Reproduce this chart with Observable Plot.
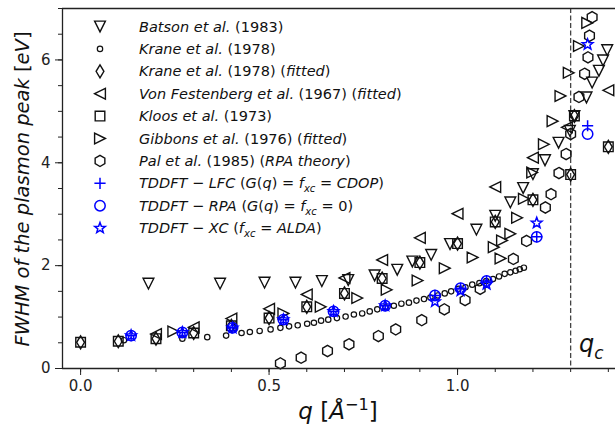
<!DOCTYPE html>
<html><head><meta charset="utf-8">
<script src="https://cdn.jsdelivr.net/npm/d3@7"></script>
<script src="https://cdn.jsdelivr.net/npm/@observablehq/plot@0.6"></script>
<style>body{margin:0;background:#fff} svg{display:block}</style>
</head><body><div id="chart"></div>
<script>
// ---------- data (q in 1/Angstrom, FWHM in eV) ----------
const batsonQ = [0.18,0.37,0.488,0.57,0.64,0.71,0.78,0.84,0.88,0.93,0.98,1.05,1.10,1.14,1.174,1.20,1.232,1.268,1.298,1.31,1.342,1.357,1.375,1.386,1.397];
const batsonV = [1.65,1.65,1.67,1.67,1.70,1.72,1.81,1.92,2.08,2.21,2.42,2.70,2.97,3.23,3.51,3.78,4.05,4.39,4.62,4.91,5.27,5.56,5.79,5.99,6.19];

const kraneQ = [0.115,0.27,0.336,0.386,0.427,0.449,0.475,0.504,0.53,0.553,0.576,0.601,0.619,0.638,0.657,0.68,0.703,0.725,0.747,0.767,0.787,0.809,0.831,0.851,0.871,0.891,0.911,0.928,0.948,0.966,0.983,1.002,1.021,1.039,1.058,1.076,1.094,1.11,1.125,1.14,1.154,1.165,1.176];
const kraneV = [0.55,0.58,0.61,0.64,0.69,0.71,0.73,0.76,0.79,0.82,0.84,0.87,0.89,0.93,0.95,0.98,1.01,1.05,1.07,1.11,1.15,1.19,1.22,1.26,1.28,1.32,1.35,1.38,1.42,1.46,1.50,1.55,1.58,1.63,1.66,1.70,1.74,1.79,1.84,1.87,1.90,1.93,1.96];

const kraneFitQ = [0.0,0.1,0.2,0.3,0.4,0.5,0.6,0.7,0.8,0.9,1.0,1.1,1.2,1.3,1.31,1.4];
const kraneFitV = [0.51,0.53,0.58,0.69,0.83,0.98,1.20,1.46,1.75,2.06,2.43,2.85,3.28,3.77,4.91,4.31];

const festQ = [0.2,0.3,0.4,0.5,0.6,0.7,0.8,0.9,1.0,1.1,1.2,1.29,1.4];
const festV = [0.67,0.80,0.97,1.16,1.44,1.76,2.11,2.54,3.01,3.53,4.10,4.69,5.41];

const kloosQ = [0.0,0.1,0.2,0.3,0.4,0.5,0.6,0.7,0.8,0.9,1.0,1.1,1.2,1.3,1.31,1.4];
const kloosV = [0.51,0.53,0.58,0.69,0.83,0.98,1.20,1.46,1.75,2.06,2.43,2.85,3.28,3.77,4.91,4.31];

const gibbonsQ = [0.246,0.538,0.637,0.734,0.812,0.894,0.966,1.04,1.096,1.114,1.118,1.14,1.158,1.176,1.198,1.229,1.252,1.273,1.295,1.322,1.344];
const gibbonsV = [0.72,1.07,1.20,1.37,1.53,1.71,1.95,2.16,2.36,2.14,2.49,2.62,2.93,3.30,3.81,4.36,4.81,5.30,5.75,6.27,6.72];

const palQ = [0.53,0.585,0.655,0.712,0.79,0.836,0.905,0.965,1.02,1.06,1.148,1.183,1.233,1.248,1.269,1.288,1.30,1.322,1.337,1.346,1.35,1.357];
const palV = [0.10,0.21,0.34,0.47,0.63,0.76,0.94,1.15,1.33,1.55,2.13,2.48,3.13,3.39,3.80,4.17,4.56,5.28,5.73,6.05,6.47,6.83];

const tddftQ = [0.134,0.27,0.403,0.538,0.671,0.808,0.94,1.008,1.077,1.21,1.345];
const lfcV = [0.64,0.70,0.79,0.95,1.11,1.22,1.42,1.56,1.70,2.56,4.72];
const rpaV = [0.64,0.70,0.79,0.95,1.11,1.22,1.42,1.56,1.70,2.56,4.56];
const xcV  = [0.64,0.70,0.79,0.95,1.11,1.22,1.30,1.51,1.64,2.83,6.30];

const qc = 1.30;
const xDomain = [-0.048, 1.419];
const yDomain = [0, 7];
const xMajor = [0, 0.5, 1.0];
const xMinor = [0,0.1,0.2,0.3,0.4,0.5,0.6,0.7,0.8,0.9,1.0,1.1,1.2,1.3,1.4];
const yMajor = [0, 2, 4, 6];
const yMinor = [0,0.5,1,1.5,2,2.5,3,3.5,4,4.5,5,5.5,6,6.5,7];

// ---------- marker shapes ----------
function polySym(pts){return {draw(ctx,size){const r=Math.sqrt(size/Math.PI);pts.forEach(([a,b],i)=>i?ctx.lineTo(a*r,b*r):ctx.moveTo(a*r,b*r));ctx.closePath();}};}
const triDown = polySym([[0,1],[-1,-1],[1,-1]]);
const triLeft = polySym([[-1,0],[1,-1],[1,1]]);
const triRight = polySym([[1,0],[-1,-1],[-1,1]]);
const squareS = polySym([[-1,-1],[1,-1],[1,1],[-1,1]]);
const thinDiamond = polySym([[0,-1],[0.6,0],[0,1],[-0.6,0]]);
const hexS = polySym(d3.range(6).map(k=>{const a=-Math.PI/2+k*Math.PI/3;return [Math.cos(a),Math.sin(a)];}));
const starS = polySym(d3.range(10).map(k=>{const a=-Math.PI/2+k*Math.PI/5, rr=k%2?0.42:1;return [rr*Math.cos(a),rr*Math.sin(a)];}));
const plusS = {draw(ctx,size){const r=Math.sqrt(size/Math.PI);ctx.moveTo(-r,0);ctx.lineTo(r,0);ctx.moveTo(0,-r);ctx.lineTo(0,r);}};
const circleS = {draw(ctx,size){const r=Math.sqrt(size/Math.PI);ctx.moveTo(r,0);ctx.arc(0,0,r,0,2*Math.PI);}};

const BLUE = "#0000ff", INK = "#111";
const series = [
  {q:batsonQ, v:batsonV, sym:triDown, r:5.4, color:INK, sw:1.4},
  {q:kraneQ, v:kraneV, sym:circleS, r:2.7, color:INK, sw:1.2},
  {q:kraneFitQ, v:kraneFitV, sym:thinDiamond, r:6.5, color:INK, sw:1.4},
  {q:festQ, v:festV, sym:triLeft, r:5.4, color:INK, sw:1.4},
  {q:kloosQ, v:kloosV, sym:squareS, r:4.8, color:INK, sw:1.4},
  {q:gibbonsQ, v:gibbonsV, sym:triRight, r:5.4, color:INK, sw:1.4},
  {q:palQ, v:palV, sym:hexS, r:5.6, color:INK, sw:1.4},
  {q:tddftQ, v:lfcV, sym:plusS, r:5.6, color:BLUE, sw:1.5},
  {q:tddftQ, v:rpaV, sym:circleS, r:5.2, color:BLUE, sw:1.5},
  {q:tddftQ, v:xcV, sym:starS, r:5.6, color:BLUE, sw:1.5}
];

const plot = Plot.plot({
  width: 615, height: 432,
  marginLeft: 62, marginRight: 0, marginTop: 8, marginBottom: 64,
  style: {fontFamily: "DejaVu Sans", background: "#fff"},
  x: {domain: xDomain, label: null},
  y: {domain: yDomain, label: null},
  marks: [
    Plot.ruleX([qc], {stroke: "#444", strokeWidth: 1.3, strokeDasharray: "5,2.5"}),
    ...series.map(s => Plot.dot(s.q, {x: s.q, y: s.v, symbol: s.sym, r: s.r, stroke: s.color, fill: "none", strokeWidth: s.sw})),
    Plot.ruleY(yDomain, {stroke: "#222", strokeWidth: 1.3}),
    Plot.ruleX([xDomain[0]], {stroke: "#222", strokeWidth: 1.3}),
    Plot.axisX(xMinor, {tickSize: 4, text: null, color: "#222", label: null}),
    Plot.axisX(xMajor, {tickSize: 7, tickPadding: 5, tickFormat: d3.format(".1f"), fontSize: 15, color: "#222", label: null}),
    Plot.axisY(yMinor, {tickSize: 4, text: null, color: "#222", label: null}),
    Plot.axisY(yMajor, {tickSize: 7, tickPadding: 5, tickFormat: d3.format("d"), fontSize: 15, color: "#222", label: null})
  ]
});
document.getElementById("chart").appendChild(plot);

// ---------- text helpers ----------
const svg = d3.select(plot);
function rich(g, x, y, parts, size, anchor){
  const t = g.append("text").attr("x",x).attr("y",y).attr("font-size",size)
    .attr("font-family","DejaVu Sans").attr("fill","#111").attr("text-anchor",anchor||"start");
  let shift = 0;
  parts.forEach(([str, st]) => {
    const sp = t.append("tspan").text(str);
    if (st.includes("i")) sp.attr("font-style","italic");
    let target = 0;
    if (st.includes("sub")) { target = size*0.28; sp.attr("font-size", size*0.7); }
    if (st.includes("sup")) { target = -size*0.4; sp.attr("font-size", size*0.7); }
    if (target !== shift) { sp.attr("dy", target - shift); shift = target; }
  });
  return t;
}

// legend
const legendItems = [
  [[["Batson et al.","i"],[" (1983)","r"]]],
  [[["Krane et al.","i"],[" (1978)","r"]]],
  [[["Krane et al.","i"],[" (1978) (","r"],["fitted","i"],[")","r"]]],
  [[["Von Festenberg et al.","i"],[" (1967) (","r"],["fitted","i"],[")","r"]]],
  [[["Kloos et al.","i"],[" (1973)","r"]]],
  [[["Gibbons et al.","i"],[" (1976) (","r"],["fitted","i"],[")","r"]]],
  [[["Pal et al.","i"],[" (1985) (","r"],["RPA theory","i"],[")","r"]]],
  [[["TDDFT","i"],[" − ","r"],["LFC","i"],[" (","r"],["G","i"],["(","r"],["q","i"],[") = ","r"],["f","i"],["xc","isub"],[" = ","r"],["CDOP","i"],[")","r"]]],
  [[["TDDFT","i"],[" − ","r"],["RPA","i"],[" (","r"],["G","i"],["(","r"],["q","i"],[") = ","r"],["f","i"],["xc","isub"],[" = 0)","r"]]],
  [[["TDDFT","i"],[" − ","r"],["XC","i"],[" (","r"],["f","i"],["xc","isub"],[" = ","r"],["ALDA","i"],[")","r"]]]
];
const lg = svg.append("g");
legendItems.forEach(([parts], i) => {
  const s = series[i];
  const cy = 26.5 + 22.4*i;
  lg.append("path").attr("transform",`translate(100,${cy})`)
    .attr("d", d3.symbol(s.sym, s.r*s.r*Math.PI)())
    .attr("fill","none").attr("stroke", s.color).attr("stroke-width", s.sw);
  rich(lg, 139, cy + 5, parts, 14.5);
});

// axis labels
const yl = svg.append("g").attr("transform","translate(29,189) rotate(-90)");
rich(yl, 0, 0, [["FWHM of the plasmon peak ","i"],["[","r"],["eV","i"],["]","r"]], 19.5, "middle");
rich(svg, 338, 419, [["q","i"],[" [","r"],["Å","i"],["−1","sup"],["]","r"]], 23, "middle");
rich(svg, 579, 352, [["q","i"],["c","isub"]], 24);
</script>
</body></html>
